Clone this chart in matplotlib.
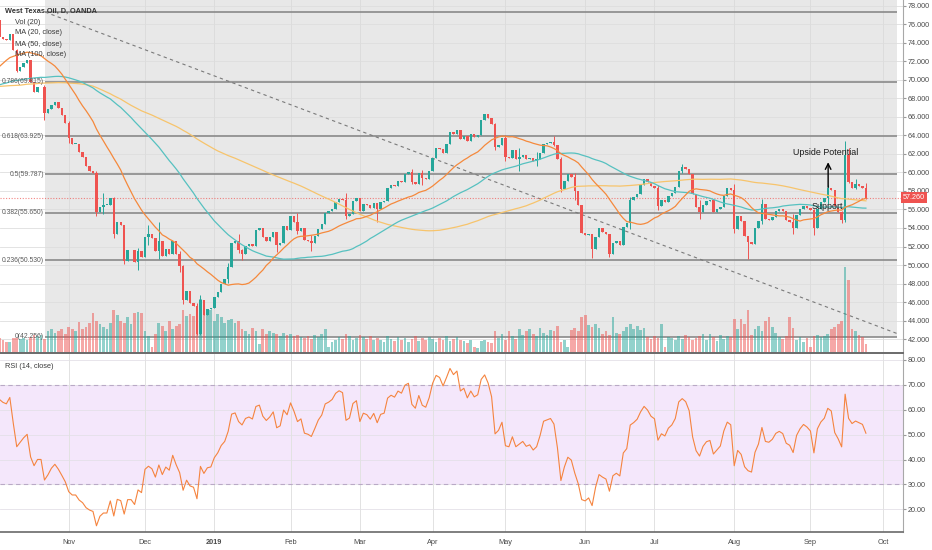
import matplotlib
matplotlib.use("Agg")
import matplotlib.pyplot as plt
import numpy as np
import pandas as pd

plt.rcParams['font.family'] = ['Liberation Sans', 'DejaVu Sans']

# ---- data (daily WTI, OANDA) ----
# closes before the visible window, only used to warm up the MAs and RSI
history_close = [
    70.96, 71.31, 71.49, 71.49, 71.28, 72.24, 72.13, 71.84, 70.71, 67.88,
    66.73, 66.73, 68.21, 67.04, 65.81, 64.75, 65.52, 65.73, 65.95, 65.74,
    66.10, 66.36, 66.64, 66.89, 65.06, 65.85, 65.07, 66.22, 65.54, 68.58,
    68.08, 70.53, 72.76, 73.45, 74.15, 73.94, 74.14, 72.94, 72.64, 73.80,
    73.85, 73.40, 70.38, 70.33, 71.01, 68.06, 68.08, 68.76, 69.46, 70.46,
    67.89, 68.52, 69.30, 69.61, 68.69, 70.13, 68.76, 67.66, 68.96, 68.49,
    69.01, 69.17, 66.94, 66.81, 67.63, 67.20, 67.04, 65.01, 65.46, 65.91,
    66.43, 67.35, 67.86, 67.83, 68.72, 68.87, 68.53, 69.51, 70.25, 69.80,
    69.80, 69.87, 68.72, 67.77, 67.75, 67.54, 69.25, 70.37, 68.59, 68.99,
    69.85, 69.85, 71.12, 70.80, 70.78, 72.08, 72.28, 72.57, 72.12, 73.25,
    75.30, 75.23, 76.41,
]

start_date = '2018-10-04'
end_date = '2019-09-24'
closed_days = ['2018-12-25', '2019-01-01', '2019-04-19']

close = [
    # Oct 2018
    74.6, 74.4, 74.3, 75.0, 73.2, 71.0, 71.4, 71.8, 72.1, 69.8,
    68.7, 69.2, 69.2, 66.4, 66.8, 67.3, 67.6, 67.0, 66.2, 65.3,
    # Nov
    63.7, 63.1, 63.1, 62.2, 61.7, 60.7, 60.2, 59.9, 55.7, 56.3, 56.5,
    56.5, 57.2, 53.4, 54.6, 54.3, 50.4, 51.6, 51.6, 50.3, 51.5, 50.9,
    # Dec
    53.0, 53.3, 52.9, 51.5, 52.6, 51.0, 51.7, 51.2, 52.6, 51.2,
    49.9, 46.2, 47.2, 45.9, 45.6, 42.6, 46.2, 44.6, 45.3, 45.4,
    # Jan 2019
    46.5, 47.1, 48.0, 48.5, 49.8, 52.4, 52.6, 51.6, 51.2, 52.1, 52.3,
    52.1, 53.8, 54.0, 53.0, 52.6, 53.0, 53.6, 52.2, 52.4, 54.2, 53.8,
    # Feb
    55.3, 54.6, 53.7, 54.0, 52.7, 52.6, 52.4, 53.1, 53.9, 54.4,
    55.6, 55.8, 56.1, 56.8, 57.1, 57.0, 55.3, 55.5, 56.9, 57.2,
    # Mar
    55.8, 56.6, 56.5, 56.2, 56.7, 56.1, 56.8, 56.9, 58.3, 58.6, 58.5,
    59.1, 59.0, 59.8, 60.0, 59.0, 58.8, 59.9, 59.4, 59.3, 60.1,
    # Apr
    61.6, 62.6, 62.5, 62.1, 63.1, 64.4, 64.1, 64.6, 63.6, 63.9, 63.4,
    64.1, 63.8, 64.0, 65.7, 66.3, 65.9, 65.2, 62.7, 63.0, 63.7,
    # May
    61.7, 61.6, 62.4, 61.5, 61.7, 61.9, 61.5, 61.6, 61.2, 61.4, 62.1, 63.1,
    63.2, 63.3, 63.0, 61.5, 58.2, 59.1, 59.8, 59.5, 58.0, 56.5, 53.5,
    # Jun
    53.2, 53.4, 51.7, 53.0, 54.0, 53.6, 53.3, 51.2, 52.4, 52.6,
    52.2, 54.1, 54.5, 57.0, 57.3, 57.7, 58.6, 59.3, 59.0, 58.5,
    # Jul
    58.3, 56.4, 57.0, 56.8, 57.5, 57.8, 58.4, 60.2, 60.6, 60.4, 59.8, 57.7,
    56.3, 55.7, 56.5, 56.9, 57.0, 55.7, 56.0, 56.3, 57.5, 58.3, 58.1,
    # Aug
    53.9, 55.3, 54.8, 53.1, 52.5, 52.3, 54.0, 54.8, 56.6, 55.0, 54.9,
    55.2, 55.8, 56.0, 55.8, 54.9, 54.7, 54.0, 55.4, 56.0, 56.4, 56.2,
    # Sep
    55.9, 54.0, 56.1, 56.8, 57.2, 58.3, 58.1, 56.3, 55.7, 54.9, 61.9,
    59.0, 58.3, 58.7, 58.5, 58.3, 57.26,
]

# visible high / low wicks (others: wick hidden in body)
wicks = {
    '2018-10-04': (76.9, 74.3), '2018-10-11': (73.3, 70.8), '2018-10-23': (69.4, 65.7),
    '2018-11-01': (65.6, 63.2), '2018-11-13': (60.1, 55.3), '2018-11-15': (57.8, 55.5),
    '2018-11-20': (57.3, 52.9), '2018-11-23': (54.3, 50.1), '2018-11-29': (51.8, 49.5),
    '2018-12-04': (54.3, 52.2), '2018-12-07': (54.6, 50.6), '2018-12-17': (51.5, 49.2),
    '2018-12-18': (50.0, 45.8), '2018-12-24': (45.9, 42.4), '2018-12-26': (46.8, 42.4),
    '2019-01-08': (50.2, 48.1), '2019-01-11': (53.3, 51.3), '2019-01-14': (51.7, 50.5),
    '2019-01-28': (53.6, 51.4), '2019-02-05': (55.6, 53.4), '2019-02-11': (53.2, 51.5),
    '2019-02-25': (57.8, 55.0), '2019-03-08': (56.6, 54.7), '2019-03-22': (60.4, 58.7),
    '2019-03-27': (60.3, 58.6), '2019-04-26': (65.3, 62.4), '2019-05-01': (64.0, 61.2),
    '2019-05-07': (62.6, 60.1), '2019-05-14': (62.2, 60.7), '2019-05-21': (63.9, 62.8),
    '2019-05-23': (61.7, 57.9), '2019-05-29': (59.9, 57.0), '2019-06-05': (53.4, 50.8),
    '2019-06-12': (53.3, 50.9), '2019-06-20': (57.3, 53.9), '2019-07-02': (58.6, 55.9),
    '2019-07-11': (60.9, 59.9), '2019-07-18': (57.0, 55.0), '2019-08-01': (58.8, 53.5),
    '2019-08-07': (52.9, 50.6), '2019-08-13': (57.1, 54.4), '2019-08-26': (55.5, 53.3),
    '2019-09-03': (56.1, 53.2), '2019-09-09': (58.6, 56.6), '2019-09-13': (55.8, 54.5),
    '2019-09-16': (63.4, 54.7), '2019-09-17': (62.6, 58.9), '2019-09-19': (59.3, 58.2),
    '2019-09-24': (58.9, 57.1),
}

volume = [
    14, 12, 10, 10, 14, 14, 13, 14, 12, 15,
    17, 16, 17, 13, 20, 22, 19, 20, 22, 18,
    24, 22, 20, 29, 22, 24, 28, 37, 30, 27,
    24, 22, 28, 40, 35, 30, 28, 33, 27, 37,
    38, 37, 20, 16, 6, 18, 28, 25, 20, 30,
    22, 25, 27, 40, 34, 36, 34, 32, 50, 37,
    35, 40, 30, 36, 33, 28, 31, 32, 28, 30,
    22, 20, 18, 23, 20, 8, 22, 18, 20, 19,
    18, 16, 19, 17, 18, 16, 17, 15, 14, 16,
    13, 17, 15, 18, 22, 6, 10, 12, 15, 13,
    18, 16, 12, 14, 17, 15, 13, 16, 12, 14,
    12, 10, 16, 13, 11, 15, 12, 14, 10, 13,
    16, 11, 14, 12, 15, 13, 10, 14, 12, 16,
    11, 13, 15, 12, 11, 9, 12, 6, 5, 11,
    12, 10, 9, 20, 14, 18, 12, 20, 16, 13,
    22, 17, 20, 22, 18, 16, 23, 19, 17, 21,
    20, 25, 10, 12, 6, 21, 23, 20, 33, 35,
    26, 24, 27, 23, 18, 20, 17, 33, 19, 18,
    20, 24, 27, 22, 25, 21, 23, 15, 13, 16,
    14, 27, 6, 15, 14, 12, 16, 13, 17, 15,
    12, 14, 16, 18, 12, 18, 15, 11, 17, 13,
    16, 15, 32, 22, 32, 27, 40, 17, 22, 25,
    20, 30, 33, 24, 19, 15, 13, 16, 33, 23,
    12, 15, 10, 14, 6, 16, 17, 15, 16, 18,
    22, 24, 27, 30, 80, 68, 22, 20, 17, 15,
    8,
]

fib_ratios = ['0', '0.236', '0.382', '0.5', '0.618', '0.786', '1']
fib_prices = [42.256, 50.530, 55.650, 59.787, 63.925, 69.815, 77.318]
fib_start, fib_end = 13.2, 259.0        # bar positions of the drawing
trend_start = (13.2, 77.318)
trend_end = (259.0, 42.6)
last_price = 57.26

# ---- build the series ----
dates = pd.bdate_range(start_date, end_date)
dates = dates[~dates.isin(pd.to_datetime(closed_days))]
assert len(dates) == len(close) == len(volume), (len(dates), len(close), len(volume))
n = len(close)
idx = np.arange(n)

allc = pd.Series(history_close + close)
opens = allc.shift(1).values[len(history_close):]
closes = np.array(close)
highs = np.maximum(opens, closes)
lows = np.minimum(opens, closes)
for d, (h, l) in wicks.items():
    i = dates.get_loc(pd.Timestamp(d))
    highs[i], lows[i] = h, l

ma20 = allc.rolling(20).mean().values[len(history_close):]
ma50 = allc.rolling(50).mean().values[len(history_close):]
ma100 = allc.rolling(100).mean().values[len(history_close):]

delta = allc.diff()
up = delta.clip(lower=0).ewm(alpha=1 / 14, adjust=False).mean()
dn = (-delta.clip(upper=0)).ewm(alpha=1 / 14, adjust=False).mean()
rsi = (100 - 100 / (1 + up / dn)).values[len(history_close):]

# month ticks (extend the calendar past the data for the Oct tick)
cal = pd.bdate_range(start_date, '2019-10-31')
cal = cal[~cal.isin(pd.to_datetime(closed_days))]
tick_pos, tick_lab = [], []
for i in range(1, len(cal)):
    if cal[i].month != cal[i - 1].month:
        tick_pos.append(i)
        tick_lab.append(str(cal[i].year) if cal[i].month == 1 else cal[i].strftime('%b'))

GREEN, RED = '#26a69a', '#ef5350'
up_bar = closes >= opens
cols = np.where(up_bar, GREEN, RED)

fig = plt.figure(figsize=(9.32, 5.5), dpi=100)
ax = fig.add_axes([0, 1 - 353 / 550, 903 / 932, 353 / 550])
axr = fig.add_axes([0, 18 / 550, 903 / 932, 178 / 550])

xlim = (0.17, 260.7)

# ---- main pane ----
ax.set_xlim(*xlim)
ax.set_ylim(40.5, 78.62)
ax.fill_between([fib_start, fib_end], fib_prices[0], ax.get_ylim()[1],
                color='#e8e8e8', lw=0, zorder=0.5)
for p in range(42, 79, 2):
    ax.axhline(p, color='#dedede', lw=0.6, zorder=0.7)
for t in tick_pos:
    ax.axvline(t, color='#dcdcdc', lw=0.7, zorder=0.7)
ax.hlines(fib_prices, fib_start, fib_end, color='#8a8a8a', lw=1.2, zorder=1)
# the label of the top level sits under the legend title, so it is not drawn
for r, p in zip(fib_ratios[:-1], fib_prices[:-1]):
    ax.text(fib_start - 0.3, p, f'{r}({p:.3f})', ha='right', va='center',
            fontsize=4.9, color='#5a5a5a', zorder=6)
ax.plot([trend_start[0], trend_end[0]], [trend_start[1], trend_end[1]],
        color='#7a7a7a', lw=0.8, ls=(0, (3, 3)), zorder=1.2)
ax.axhline(last_price, color=RED, lw=0.8, ls=(0, (1, 1.5)), alpha=0.7, zorder=1.3)

# volume overlay on the bottom quarter
vol = np.array(volume, dtype=float)
vol_frac = vol / vol.max() * 0.244
ax.bar(idx, vol_frac, bottom=0, width=0.78, color=cols, alpha=0.5, lw=0,
       transform=ax.get_xaxis_transform(), zorder=2)

# candles
ax.vlines(idx, lows, highs, colors=cols, lw=0.7, zorder=3)
body = np.maximum(np.abs(closes - opens), 0.06)
ax.bar(idx, body, bottom=np.minimum(opens, closes), width=0.7, color=cols,
       lw=0, zorder=4)

ax.plot(idx, ma100, color='#f7c46c', lw=0.9, zorder=5)
ax.plot(idx, ma50, color='#56c1c0', lw=0.9, zorder=5)
ax.plot(idx, ma20, color='#f5893c', lw=0.9, zorder=5)

ax.annotate('', xy=(239.1, 61.4), xytext=(239.1, 58.1),
            arrowprops=dict(arrowstyle='->', color='black', lw=1.0), zorder=7)
ax.text(238.5, 62.15, 'Upside Potential', ha='center', va='center',
        fontsize=6.4, color='#1a1a1a', zorder=7)
ax.text(238.8, 56.3, 'Support', ha='center', va='center', fontsize=6.4,
        color='#1a1a1a', zorder=7)

ax.yaxis.tick_right()
ax.set_yticks(range(42, 79, 2))
ax.set_yticklabels([f'{p:.3f}' for p in range(42, 79, 2)])
ax.tick_params(axis='y', labelsize=5.2, colors='#4a4a4a', length=2, pad=1.5,
               color='#9a9a9a')
ax.set_xticks([])
for s in ('top', 'left'):
    ax.spines[s].set_visible(False)
ax.spines['right'].set_color('#a8a8a8')
ax.spines['bottom'].set_color('#6a6a6a')
ax.spines['bottom'].set_linewidth(1.4)

ax.text(1.0, last_price, f'{last_price:.3f}', transform=ax.get_yaxis_transform(),
        ha='left', va='center', fontsize=5.2, color='white', zorder=8, clip_on=False,
        bbox=dict(boxstyle='square,pad=0.3', fc=RED, ec='none'))

fig.text(5 / 932, 1 - 11 / 550, 'West Texas Oil, D, OANDA', fontsize=5.3,
         fontweight='bold', color='#333333', va='center')
for k, lab in enumerate(['Vol (20)', 'MA (20, close)', 'MA (50, close)', 'MA (100, close)']):
    fig.text(15 / 932, 1 - (22 + 11 * k) / 550, lab, fontsize=5.3,
             color='#3a3a3a', va='center')

# ---- RSI pane ----
axr.set_xlim(*xlim)
axr.set_ylim(10.9, 82.4)
axr.axhspan(30, 70, color='#f4e7fb', lw=0, zorder=0.5)
for v in range(20, 81, 10):
    axr.axhline(v, color='#e4e0e8', lw=0.6, zorder=0.7)
for t in tick_pos:
    axr.axvline(t, color='#e2e2e2', lw=0.7, zorder=0.7)
for v in (30, 70):
    axr.axhline(v, color='#b9a9c6', lw=0.8, ls=(0, (4, 3)), zorder=1)
axr.plot(idx, rsi, color='#f5843f', lw=0.8, zorder=3)
axr.text(5 / 903, 1 - 12 / 178, 'RSI (14, close)', transform=axr.transAxes,
         fontsize=5.3, color='#3a3a3a', va='center')

axr.yaxis.tick_right()
axr.set_yticks(range(20, 81, 10))
axr.set_yticklabels([f'{v:.2f}' for v in range(20, 81, 10)])
axr.tick_params(axis='y', labelsize=5.2, colors='#4a4a4a', length=2, pad=1.5,
                color='#9a9a9a')
axr.set_xticks(tick_pos)
axr.set_xticklabels(tick_lab)
axr.tick_params(axis='x', labelsize=5.3, colors='#4a4a4a', length=0, pad=5)
for lab in axr.get_xticklabels():
    if lab.get_text() == '2019':
        lab.set_fontweight('bold')
for s in ('top', 'left'):
    axr.spines[s].set_visible(False)
axr.spines['right'].set_color('#a8a8a8')
axr.spines['bottom'].set_color('#6a6a6a')
axr.spines['bottom'].set_linewidth(1.2)

fig.savefig('out.png', dpi=100, facecolor='white')
